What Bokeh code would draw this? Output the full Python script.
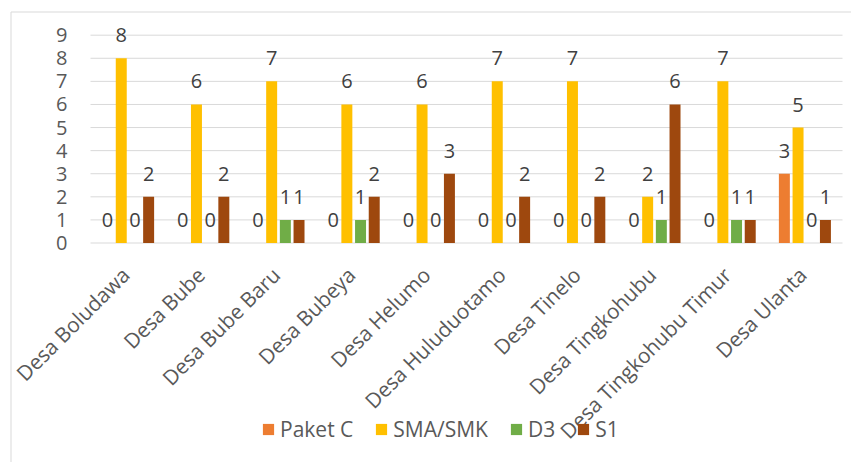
import math
from bokeh.plotting import figure
from bokeh.models import ColumnDataSource, Range1d, FixedTicker, Legend, LegendItem
from bokeh.core.properties import value
from bokeh.embed import file_html
from bokeh.resources import INLINE

villages = ["Desa Boludawa", "Desa Bube", "Desa Bube Baru", "Desa Bubeya", "Desa Helumo",
            "Desa Huluduotamo", "Desa Tinelo", "Desa Tingkohubu", "Desa Tingkohubu Timur", "Desa Ulanta"]
series_names = ["Paket C", "SMA/SMK", "D3", "S1"]
paket_c = [0, 0, 0, 0, 0, 0, 0, 0, 0, 3]
sma_smk = [8, 6, 7, 6, 6, 7, 7, 2, 7, 5]
d3 = [0, 0, 1, 1, 0, 0, 0, 1, 1, 0]
s1 = [2, 2, 1, 2, 3, 2, 2, 6, 1, 1]
y_ticks = [0, 1, 2, 3, 4, 5, 6, 7, 8, 9]
colors = ["#ED7D31", "#FFC000", "#70AD47", "#9E480E"]

# ---- layout constants (pixels) ----
W, H = 851, 462
PLOT_LEFT, PLOT_RIGHT = 90, 842
BASE_Y = 242.5
UNIT_X = (PLOT_RIGHT - PLOT_LEFT) / 10.0
UNIT_Y = 23.09
PITCH = 0.182
BAR_W = 0.146
LABEL_DX, LABEL_DY = -2.5, 28.0   # category label anchor offset from group centre / axis (px)
FONT = "Open Sans"
GRID = "#D9D9D9"


def px2x(px):
    return (px - PLOT_LEFT) / UNIT_X + 0.5


def px2y(py):
    return (BASE_Y - py) / UNIT_Y


p = figure(width=W, height=H,
           x_range=Range1d(px2x(0), px2x(W)), y_range=Range1d(px2y(H), px2y(0)),
           output_backend="svg", toolbar_location=None,
           min_border=0, min_border_left=0, min_border_right=0,
           min_border_top=0, min_border_bottom=0)
p.outline_line_color = None
p.background_fill_color = "white"
p.border_fill_color = "white"
p.xgrid.visible = False
p.ygrid.visible = False

# chart-area border (left and top edges)
p.segment(x0=[px2x(10.5), px2x(10.5)], y0=[px2y(11.5), px2y(11.5)],
          x1=[px2x(10.5), px2x(W)], y1=[px2y(H), px2y(11.5)],
          line_color=GRID, line_width=1)

# horizontal gridlines (the one at 0 doubles as the category axis line)
p.segment(x0=[px2x(PLOT_LEFT)] * len(y_ticks), x1=[px2x(PLOT_RIGHT)] * len(y_ticks),
          y0=y_ticks, y1=y_ticks, line_color=GRID, line_width=1)

items = []
for k, (name, vals, col) in enumerate(zip(series_names, [paket_c, sma_smk, d3, s1], colors)):
    xs = [i + 1 + (k - 1.5) * PITCH for i in range(len(villages))]
    src = ColumnDataSource(dict(x=xs, top=vals, label=[str(v) for v in vals]))
    r = p.vbar(x="x", top="top", width=BAR_W, source=src, fill_color=col, line_color=None)
    p.text(x="x", y="top", text="label", source=src, text_font=value(FONT),
           text_font_size="20px", text_color="#404040", text_align="center",
           text_baseline="middle", y_offset=-23)
    items.append(LegendItem(label=name, renderers=[r]))

# category labels (rotated 45 degrees, ending just below each group)
cat_src = ColumnDataSource(dict(
    x=[i + 1 + LABEL_DX / UNIT_X for i in range(len(villages))],
    y=[px2y(BASE_Y + LABEL_DY)] * len(villages),
    text=villages))
p.text(x="x", y="y", text="text", source=cat_src, angle=math.pi / 4,
       text_font=value(FONT), text_font_size="20.8px", text_color="#595959",
       text_align="right", text_baseline="middle")

p.xaxis.visible = False

# y axis
p.yaxis.fixed_location = px2x(PLOT_LEFT)
p.yaxis.ticker = FixedTicker(ticks=y_ticks)
p.yaxis.axis_line_color = None
p.yaxis.major_tick_line_color = None
p.yaxis.minor_tick_line_color = None
p.yaxis.major_tick_out = 0
p.yaxis.major_tick_in = 0
p.yaxis.major_label_standoff = 23
p.yaxis.major_label_text_font = FONT
p.yaxis.major_label_text_font_size = "20px"
p.yaxis.major_label_text_color = "#595959"

legend = Legend(items=items, orientation="horizontal", location=(261, 19),
                label_text_font=FONT, label_text_font_size="21px", label_text_color="#595959",
                glyph_width=14, glyph_height=14, label_standoff=5, spacing=21,
                padding=0, margin=0, border_line_color=None, background_fill_alpha=0)
p.add_layout(legend, "center")

open("out.html", "w").write(file_html(p, INLINE))
